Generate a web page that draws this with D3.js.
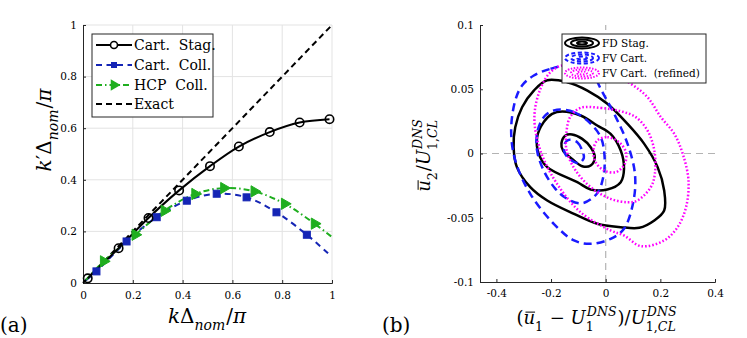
<!DOCTYPE html>
<html><head><meta charset="utf-8">
<script src="https://cdn.jsdelivr.net/npm/d3@7"></script>
<style>body{margin:0;background:#fff} svg{display:block} text{font-family:"DejaVu Serif",serif;fill:#000}</style>
</head><body><svg id="c" width="747" height="338"></svg>
<script>
// ---------- data: panel (a) ----------
const xTicksA = [0, 0.2, 0.4, 0.6, 0.8, 1];
const yTicksA = [0, 0.2, 0.4, 0.6, 0.8, 1];
const stagX = [0.019, 0.143, 0.263, 0.386, 0.51, 0.626, 0.75, 0.87, 0.99];
const stagY = [0.018, 0.135, 0.252, 0.359, 0.453, 0.529, 0.585, 0.622, 0.635];
const collX = [0.012, 0.054, 0.175, 0.296, 0.417, 0.537, 0.657, 0.777, 0.899, 0.99];
const collY = [0.011, 0.045, 0.161, 0.255, 0.319, 0.346, 0.332, 0.274, 0.187, 0.11];
const hcpX = [0.012, 0.083, 0.21, 0.327, 0.45, 0.566, 0.688, 0.81, 0.93, 1.0];
const hcpY = [0.012, 0.084, 0.187, 0.28, 0.345, 0.368, 0.355, 0.307, 0.23, 0.178];
const exactX = [0, 1];
const exactY = [0, 1];
const legendA = ["Cart.  Stag.", "Cart.  Coll.", "HCP  Coll.", "Exact"];

// ---------- data: panel (b) ----------
const xTicksB = [-0.4, -0.2, 0, 0.2, 0.4];
const yTicksB = [-0.1, -0.05, 0, 0.05, 0.1];
const fdStag = [
  [[-0.263,0.049],[-0.214,0.057],[-0.141,0.0555],[-0.067,0.049],[0.006,0.0387],[0.08,0.023],[0.141,0.0075],[0.19,-0.0106],[0.214,-0.0288],[0.214,-0.0444],[0.178,-0.0521],[0.123,-0.0578],[0.055,-0.0573],[-0.031,-0.0547],[-0.116,-0.047],[-0.214,-0.0366],[-0.276,-0.0262],[-0.325,-0.0106],[-0.337,0.0049],[-0.331,0.0205],[-0.306,0.036]],
  [[-0.159,0.0327],[-0.092,0.0296],[-0.031,0.0218],[0.018,0.0153],[0.055,0.0023],[0.067,-0.0119],[0.055,-0.0223],[0.006,-0.028],[-0.055,-0.028],[-0.104,-0.0223],[-0.214,-0.0106],[-0.245,-0.0003],[-0.251,0.0127],[-0.227,0.0244],[-0.196,0.0309]],
  [[-0.123,0.0148],[-0.086,0.0114],[-0.055,0.0049],[-0.04,-0.0029],[-0.055,-0.0093],[-0.086,-0.0099],[-0.123,-0.0042],[-0.156,0.0023],[-0.162,0.008],[-0.147,0.014]]
];
const fvCart = [
  [[-0.263,0.0607],[-0.202,0.0659],[-0.129,0.0685],[-0.055,0.0633],[-0.012,0.0477],[0.037,0.0283],[0.08,0.0075],[0.107,-0.0158],[0.102,-0.0366],[0.067,-0.0586],[0.018,-0.0664],[-0.055,-0.0703],[-0.116,-0.0677],[-0.19,-0.0547],[-0.276,-0.0314],[-0.331,-0.0054],[-0.346,0.0179],[-0.331,0.0412],[-0.306,0.0529]],
  [[-0.178,0.034],[-0.116,0.0322],[-0.061,0.0244],[-0.018,0.0127],[-0.004,-0.0029],[-0.009,-0.0184],[-0.031,-0.0309],[-0.086,-0.0387],[-0.141,-0.0353],[-0.184,-0.0275],[-0.227,-0.0132],[-0.251,0.0023],[-0.249,0.0179],[-0.221,0.0296]],
  [[-0.135,0.0106],[-0.104,0.0088],[-0.086,0.0023],[-0.08,-0.0034],[-0.098,-0.0075],[-0.129,-0.0049],[-0.151,0.001],[-0.15,0.0075]]
];
const fvRefined = [
  [[-0.159,0.0685],[-0.092,0.0672],[0.006,0.0633],[0.092,0.0542],[0.153,0.0438],[0.202,0.0283],[0.251,0.0153],[0.282,-0.0003],[0.303,-0.021],[0.294,-0.0418],[0.263,-0.0573],[0.214,-0.0677],[0.129,-0.0721],[0.067,-0.0638],[0.018,-0.0599],[-0.092,-0.0457],[-0.178,-0.0236],[-0.239,0.0023],[-0.261,0.0283],[-0.239,0.0503],[-0.202,0.0633]],
  [[-0.092,0.0355],[-0.018,0.0355],[0.055,0.0329],[0.11,0.0283],[0.153,0.0179],[0.178,0.0023],[0.18,-0.0158],[0.165,-0.0262],[0.116,-0.0366],[0.08,-0.0379],[0.018,-0.0353],[-0.055,-0.0262],[-0.11,-0.0132],[-0.143,0.0023],[-0.143,0.0179],[-0.129,0.0288]],
  [[-0.031,0.0101],[0.006,0.0127],[0.049,0.0088],[0.074,0.001],[0.07,-0.008],[0.037,-0.0145],[-0.006,-0.0132],[-0.037,-0.0067],[-0.045,0.0023]]
];
const legendB = ["FD Stag.", "FV Cart.", "FV Cart.  (refined)"];

// ---------- drawing ----------
const svg = d3.select("#c");
const AX = "#262626";

// lays out a small math expression; stacked super/subscripts share one <text>
function mathText(parent, runs, size, ax, ay, rot) {
  const g = parent.append("g");
  const inner = g.append("g");
  let x = 0;
  const s = size * 0.7, up = -size * 0.45, down = size * 0.37;
  runs.forEach(r => {
    if (r.sup || r.sub) {
      const t = inner.append("text").attr("font-size", s);
      const addLine = (parts, y, dx) => {
        parts.forEach((p, k) => {
          const ts = t.append("tspan").attr("font-style", p.i ? "italic" : "normal").text(p.t);
          if (k === 0) ts.attr("x", x + dx).attr("y", y);
        });
      };
      if (r.sup) addLine(r.sup, up, r.supDx || 0);
      if (r.sub) addLine(r.sub, down, 0);
      const tsp = t.selectAll("tspan").nodes();
      let supW = 0, subW = 0;
      const nSup = r.sup ? r.sup.length : 0;
      tsp.forEach((n, k) => { const l = n.getComputedTextLength(); if (k < nSup) supW += l; else subW += l; });
      x += Math.max(supW + (r.supDx || 0), subW) + 1;
    } else {
      const t = inner.append("text").attr("x", x).attr("y", 0).attr("font-size", size)
        .attr("xml:space", "preserve").style("white-space", "pre")
        .attr("font-style", r.i ? "italic" : "normal").text(r.t);
      const w = t.node().getComputedTextLength();
      if (r.bar) inner.append("line").attr("x1", x + 2).attr("x2", x + w).attr("y1", -size * 0.66).attr("y2", -size * 0.66)
        .attr("stroke", "#000").attr("stroke-width", 1);
      x += w + (r.sp || 0);
    }
  });
  inner.attr("transform", `translate(${-x / 2},0)`);
  g.attr("transform", `translate(${ax},${ay})` + (rot ? ` rotate(${rot})` : ""));
}

// ===== panel (a) =====
const xA = d3.scaleLinear().domain([0, 1]).range([83, 332]);
const yA = d3.scaleLinear().domain([0, 1]).range([283, 25]);
const gA = svg.append("g");
gA.append("g").selectAll("line").data(xTicksA.slice(1)).join("line")
  .attr("x1", d => xA(d)).attr("x2", d => xA(d)).attr("y1", yA(0)).attr("y2", yA(1))
  .attr("stroke", "#e3e3e3").attr("stroke-width", 1);
gA.append("g").selectAll("line").data(yTicksA.slice(1)).join("line")
  .attr("y1", d => yA(d)).attr("y2", d => yA(d)).attr("x1", xA(0)).attr("x2", xA(1))
  .attr("stroke", "#e3e3e3").attr("stroke-width", 1);
const axA_x = d3.axisBottom(xA).tickValues(xTicksA).tickSize(-3).tickPadding(9).tickFormat(d3.format("~g"));
const axA_y = d3.axisLeft(yA).tickValues(yTicksA).tickSize(-3).tickPadding(6).tickFormat(d3.format("~g"));
gA.append("g").attr("transform", `translate(0,${yA(0)})`).call(axA_x);
gA.append("g").attr("transform", `translate(${xA(0)},0)`).call(axA_y);
gA.selectAll(".domain").attr("stroke", AX).attr("stroke-width", 1);
gA.selectAll(".tick line").attr("stroke", AX);
gA.selectAll(".tick text").attr("font-family", "DejaVu Serif").attr("font-size", 10.5).attr("fill", "#262626");

const line = d3.line().curve(d3.curveCatmullRom.alpha(0.5));
const pts = (X, Y) => X.map((x, i) => [xA(x), yA(Y[i])]);
const BLUE_A = "#1525b5", GREEN = "#1fae1f";
gA.append("path").attr("d", line(pts(exactX, exactY))).attr("fill", "none").attr("stroke", "#000")
  .attr("stroke-width", 2).attr("stroke-dasharray", "6,4");
gA.append("path").attr("d", line(pts(collX, collY))).attr("fill", "none").attr("stroke", BLUE_A)
  .attr("stroke-width", 2).attr("stroke-dasharray", "6,4.5");
gA.append("path").attr("d", line(pts(hcpX, hcpY))).attr("fill", "none").attr("stroke", GREEN)
  .attr("stroke-width", 2).attr("stroke-dasharray", "6,3,1.5,3");
gA.append("path").attr("d", line(pts(stagX, stagY))).attr("fill", "none").attr("stroke", "#000")
  .attr("stroke-width", 2);
const sq = 7, tri = d3.symbol().type(d3.symbolTriangle).size(55);
gA.append("g").selectAll("rect").data(pts(collX, collY).slice(1, -1)).join("rect")
  .attr("x", d => d[0] - sq / 2).attr("y", d => d[1] - sq / 2).attr("width", sq).attr("height", sq)
  .attr("fill", BLUE_A).attr("stroke", BLUE_A).attr("stroke-width", 1);
gA.append("g").selectAll("path").data(pts(hcpX, hcpY).slice(1, -1)).join("path")
  .attr("d", tri).attr("transform", d => `translate(${d[0]},${d[1]}) rotate(90)`)
  .attr("fill", GREEN).attr("stroke", GREEN).attr("stroke-width", 1);
gA.append("g").selectAll("circle").data(pts(stagX, stagY)).join("circle")
  .attr("cx", d => d[0]).attr("cy", d => d[1]).attr("r", 4.2)
  .attr("fill", "none").attr("stroke", "#000").attr("stroke-width", 1.6);

// legend (a)
const lgA = gA.append("g");
lgA.append("rect").attr("x", 92).attr("y", 34).attr("width", 121).attr("height", 83)
  .attr("fill", "#fff").attr("stroke", AX).attr("stroke-width", 1);
const rowY = [45, 65, 85, 104];
const lStyles = [
  {c: "#000", d: null, m: "o"}, {c: BLUE_A, d: "6,4.5", m: "s"},
  {c: GREEN, d: "6,3,1.5,3", m: "t"}, {c: "#000", d: "6,4", m: null}];
legendA.forEach((name, i) => {
  const y = rowY[i], s = lStyles[i];
  lgA.append("line").attr("x1", 96).attr("x2", 132).attr("y1", y).attr("y2", y).attr("stroke", s.c)
    .attr("stroke-width", 2).attr("stroke-dasharray", s.d);
  if (s.m === "o") lgA.append("circle").attr("cx", 114).attr("cy", y).attr("r", 3.5).attr("fill", "#fff").attr("stroke", "#000").attr("stroke-width", 1.6);
  if (s.m === "s") lgA.append("rect").attr("x", 111).attr("y", y - 3).attr("width", 6).attr("height", 6).attr("fill", s.c);
  if (s.m === "t") lgA.append("path").attr("d", tri).attr("transform", `translate(114,${y}) rotate(90)`).attr("fill", s.c);
  lgA.append("text").attr("x", 134).attr("y", y + 5).attr("font-size", 14).attr("xml:space", "preserve").text(name);
});

mathText(svg, [{t: "k", i: true}, {t: "Δ"}, {sub: [{t: "nom", i: true}]}, {t: "/"}, {t: "π", i: true}], 20, 207, 323);
mathText(svg, [{t: "k", i: true}, {t: "′"}, {t: "Δ"}, {sub: [{t: "nom", i: true}]}, {t: "/"}, {t: "π", i: true}], 20, 51, 130, -90);
svg.append("text").attr("x", 0).attr("y", 332).attr("font-size", 20).text("(a)");

// ===== panel (b) =====
const xB = d3.scaleLinear().domain([-0.46, 0.4]).range([480, 715]);
const yB = d3.scaleLinear().domain([-0.1, 0.1]).range([282, 25]);
const gB = svg.append("g");
gB.append("line").attr("x1", xB(0)).attr("x2", xB(0)).attr("y1", yB(-0.1)).attr("y2", yB(0.1))
  .attr("stroke", "#b3b3b3").attr("stroke-width", 1.2).attr("stroke-dasharray", "7,5");
gB.append("line").attr("x1", xB(-0.46)).attr("x2", xB(0.4)).attr("y1", yB(0)).attr("y2", yB(0))
  .attr("stroke", "#b3b3b3").attr("stroke-width", 1.2).attr("stroke-dasharray", "7,5");
const axB_x = d3.axisBottom(xB).tickValues(xTicksB).tickSize(-3).tickPadding(8).tickFormat(d3.format("~g"));
const axB_y = d3.axisLeft(yB).tickValues(yTicksB).tickSize(-3).tickPadding(6).tickFormat(d3.format("~g"));
gB.append("g").attr("transform", `translate(0,${yB(-0.1)})`).call(axB_x);
gB.append("g").attr("transform", `translate(${xB(-0.46)},0)`).call(axB_y);
gB.selectAll(".domain").attr("stroke", AX).attr("stroke-width", 1);
gB.selectAll(".tick line").attr("stroke", AX);
gB.selectAll(".tick text").attr("font-family", "DejaVu Serif").attr("font-size", 10.5).attr("fill", "#262626")
  .text(function () { return this.textContent.replace("−", "-"); });

const closed = d3.line().x(d => xB(d[0])).y(d => yB(d[1])).curve(d3.curveCatmullRomClosed.alpha(0.5));
const BLUE_B = "#1a1aff", MAG = "#ff00ff";
const cStyles = [
  {data: fdStag, c: "#000", d: null, w: 2.5},
  {data: fvCart, c: BLUE_B, d: "8,5", w: 2.5},
  {data: fvRefined, c: MAG, d: "1.6,2", w: 2.5}];
cStyles.forEach(s => {
  gB.append("g").selectAll("path").data(s.data).join("path").attr("d", closed)
    .attr("fill", "none").attr("stroke", s.c).attr("stroke-width", s.w).attr("stroke-dasharray", s.d);
});

// legend (b)
const lgB = gB.append("g");
lgB.append("rect").attr("x", 562).attr("y", 34).attr("width", 144).attr("height", 49)
  .attr("fill", "#fff").attr("stroke", AX).attr("stroke-width", 1);
const rowB = [43, 58, 73];
legendB.forEach((name, i) => {
  const y = rowB[i], s = cStyles[i];
  [[17, 5.5], [11, 3.5], [5, 1.5]].forEach(r => {
    lgB.append("ellipse").attr("cx", 582).attr("cy", y).attr("rx", r[0]).attr("ry", r[1])
      .attr("fill", "none").attr("stroke", s.c).attr("stroke-width", 2).attr("stroke-dasharray", s.d ? (i === 1 ? "4,2.5" : "1.5,1.5") : null);
  });
  lgB.append("text").attr("x", 602).attr("y", y + 4).attr("font-size", 10.5).attr("xml:space", "preserve").text(name);
});

mathText(svg, [{t: "(", sp: 0}, {t: "u", i: true, bar: true}, {sub: [{t: "1"}]}, {t: "\u00a0−\u00a0"}, {t: "U", i: true},
  {sup: [{t: "DNS", i: true}], sub: [{t: "1"}], supDx: 1}, {t: ")"}, {t: "/"}, {t: "U", i: true},
  {sup: [{t: "DNS", i: true}], sub: [{t: "1,"}, {t: "CL", i: true}], supDx: 1}], 18, 597, 324);
mathText(svg, [{t: "u", i: true, bar: true}, {sub: [{t: "2"}]}, {t: "/"}, {t: "U", i: true},
  {sup: [{t: "DNS", i: true}], sub: [{t: "1,"}, {t: "CL", i: true}], supDx: 1}], 18, 430, 155, -90);
svg.append("text").attr("x", 382).attr("y", 332).attr("font-size", 20).text("(b)");
</script></body></html>
